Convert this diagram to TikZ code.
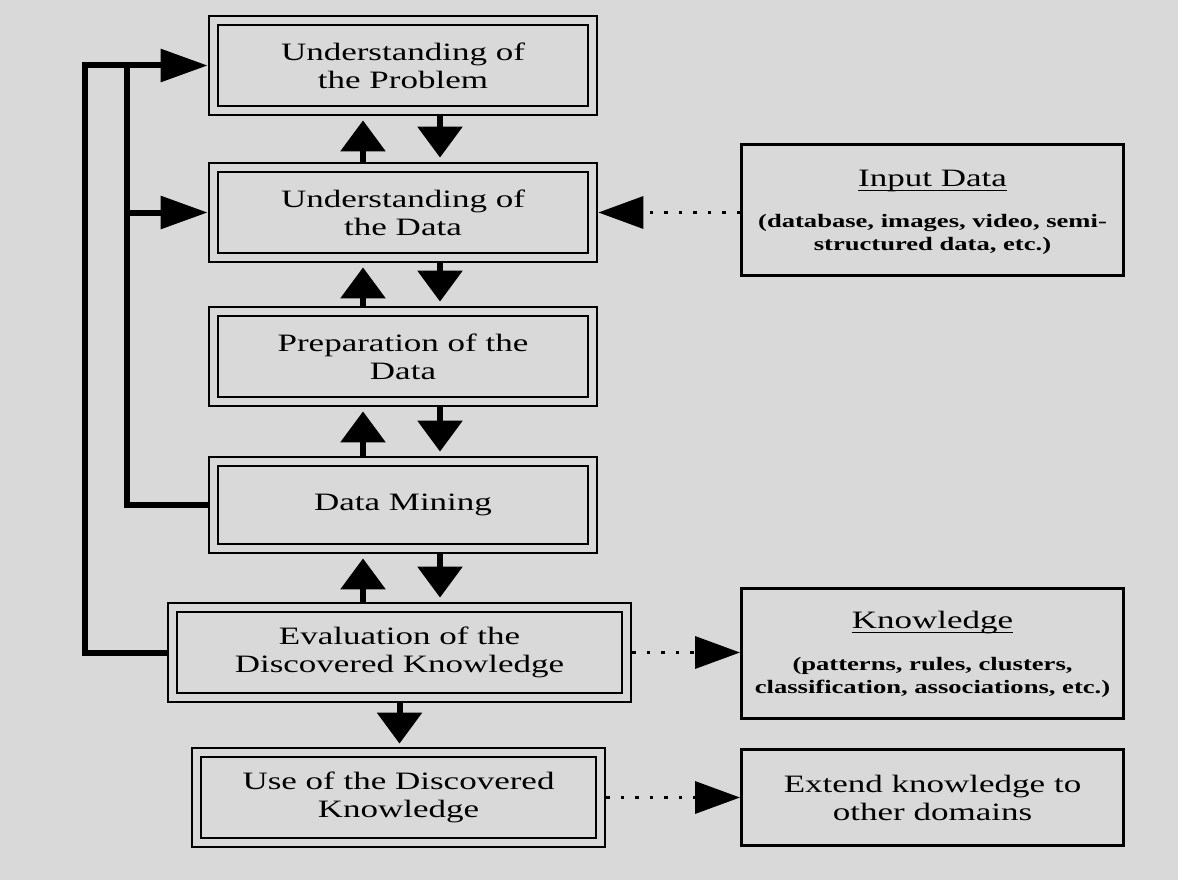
\documentclass[tikz,border=0pt]{standalone}
\usepackage{fontspec}
\setmainfont{Liberation Serif}[FakeStretch=1.4]
\usetikzlibrary{arrows.meta}
\definecolor{paper}{HTML}{D9D9D9}
\begin{document}
\begin{tikzpicture}[x=1pt,y=-1pt,
  stage/.style={draw, line width=2.8pt, double=paper, double distance=6.2pt,
    rectangle, inner sep=0pt, outer sep=5.9pt, align=center,
    font=\fontsize{25}{28}\selectfont, minimum width=379pt, minimum height=90pt},
  sidebox/.style={draw, line width=3pt, inner sep=0pt, minimum width=382pt,
    align=center, font=\fontsize{25}{28}\selectfont},
  heading/.style={inner sep=0pt, font=\fontsize{25}{28}\selectfont},
  detail/.style={inner sep=0pt, align=center, font=\bfseries\fontsize{19}{23}\selectfont},
  flow/.style={line width=6pt, -{Triangle[length=31pt,width=44pt]}},
  feedback/.style={line width=6pt},
  fbarrow/.style={line width=6pt, -{Triangle[length=47pt,width=32pt]}},
  dotlink/.style={line width=3.5pt, dash pattern=on 3.5pt off 11pt,
    -{Triangle[length=45pt,width=32pt]}},
  rule/.style={line width=1.6pt}
]
\fill[paper] (0,0) rectangle (1178,880);
\useasboundingbox (0,0) rectangle (1178,880);

% process stages
\node[stage] (problem) at (403,65.5) {Understanding of\\the Problem};
\node[stage] (understand) at (403,212.5) {Understanding of\\the Data};
\node[stage] (prep) at (403,356.5) {Preparation of the\\Data};
\node[stage, minimum height=87pt] (mining) at (403,505) {Data Mining};
\node[stage, minimum width=454pt] (eval) at (399.5,652.5) {Evaluation of the\\Discovered Knowledge};
\node[stage, minimum width=404pt] (use) at (398.5,797.5) {Use of the Discovered\\Knowledge};

% side boxes
\node[sidebox, minimum height=131pt] (input) at (932.5,210) {};
\node[heading] (inputtitle) at ([yshift=29pt]input.center) {Input Data};
\draw[rule] ([yshift=-4pt]inputtitle.base west) -- ([yshift=-4pt]inputtitle.base east);
\node[detail] (inputdetail) at ([yshift=-24pt]input.center)
  {(database, images, video, semi-\\structured data, etc.)};

\node[sidebox, minimum height=130pt] (know) at (932.5,653.5) {};
\node[heading] (knowtitle) at ([yshift=31pt]know.center) {Knowledge};
\draw[rule] ([yshift=-4pt]knowtitle.base west) -- ([yshift=-4pt]knowtitle.base east);
\node[detail] (knowdetail) at ([yshift=-24pt]know.center)
  {(patterns, rules, clusters,\\classification, associations, etc.)};

\node[sidebox, minimum height=96pt] (extend) at (932.5,797.5) {Extend knowledge to\\other domains};

% two-way arrows between consecutive stages
\foreach \upper/\lower in {problem/understand, understand/prep, prep/mining} {
  \draw[flow, shorten >=4pt] ([xshift=-40pt]\lower.north) -- ([xshift=-40pt]\upper.south);
  \draw[flow, shorten >=4pt] ([xshift=37pt]\upper.south) -- ([xshift=37pt]\lower.north);
}
\draw[flow, shorten >=4pt] ([xshift=-40pt]mining.south |- eval.north) -- ([xshift=-40pt]mining.south);
\draw[flow, shorten >=4pt] ([xshift=37pt]mining.south) -- ([xshift=37pt]mining.south |- eval.north);
\draw[flow, shorten >=3pt] (eval.south) -- (eval.south |- use.north);

% feedback loops
\coordinate (fbouter) at (85,0);
\coordinate (fbinner) at (127,0);
\draw[fbarrow] (eval.west) -| (fbouter |- problem.west) -- (problem.west);
\draw[feedback] (mining.west) -| (fbinner |- problem.west);
\draw[fbarrow] (fbinner |- understand.west) -- (understand.west);

% dotted links to the side boxes
\draw[dotlink] (understand.east -| input.west) -- (understand.east);
\draw[dotlink] (eval.east) -- (eval.east -| know.west);
\draw[dotlink] (use.east) -- (use.east -| extend.west);
\end{tikzpicture}
\end{document}
